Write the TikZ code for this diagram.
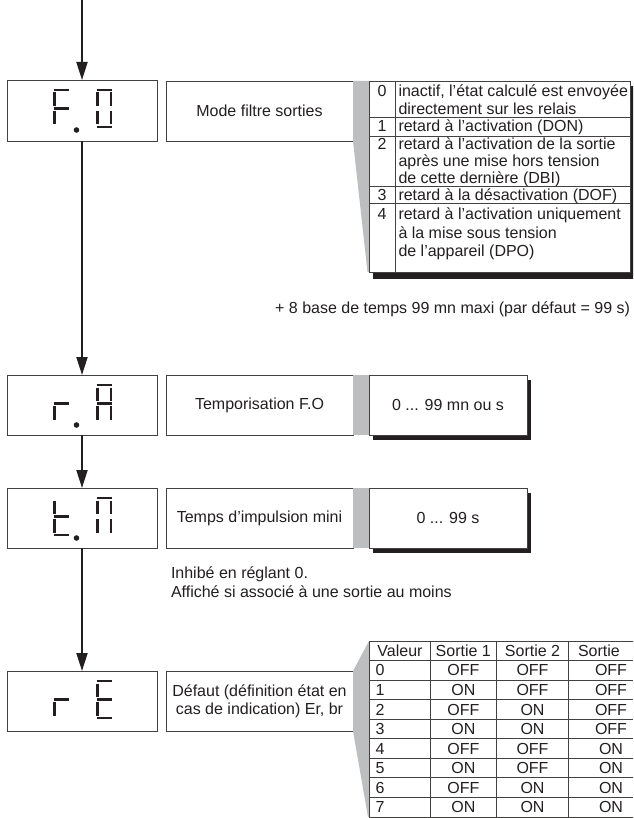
\documentclass[tikz,border=0pt]{standalone}
\usepackage{fontspec}
\setmainfont{Liberation Sans}
\usetikzlibrary{arrows.meta}
\definecolor{ink}{RGB}{35,31,32}
\definecolor{wedge}{RGB}{188,190,192}
\newcommand\fsz{\fontsize{16}{18}\selectfont}
\newcommand\mysega{\draw[segm] (0,10)--(15.5,10);}
\newcommand\mysegb{\draw[segm] (14.4,12.5)--(14.4,26);}
\newcommand\mysegc{\draw[segm] (14.4,31)--(14.4,44.5);}
\newcommand\mysegd{\draw[segm] (0,47)--(15.5,47);}
\newcommand\mysege{\draw[segm] (1.1,31)--(1.1,44.5);}
\newcommand\mysegf{\draw[segm] (1.1,12.5)--(1.1,26);}
\newcommand\mysegg{\draw[segm] (0,28.5)--(15.5,28.5);}
\newcommand\digit[3]{\begin{scope}[shift={(#1,#2)}]\foreach \s in {#3}{\csname myseg\s\endcsname}\end{scope}}
\begin{document}
\begin{tikzpicture}[x=1pt,y=-1pt,
  box/.style={draw=ink!85, line width=0.9pt, fill=white, inner sep=0pt, outer sep=0pt, align=center, font=\fsz, text=ink},
  txt/.style={inner sep=0pt, outer sep=0pt, font=\fsz, text=ink},
  flow/.style={draw=ink, line width=2pt, -{Triangle[width=11pt,length=18pt]}},
  segm/.style={draw=ink, line width=2.3pt},
  rule/.style={draw=ink!85, line width=0.9pt},
  shade/.style={fill=ink, draw=none}]
\clip (0,0) rectangle (633,818);
\fill[white] (0,0) rectangle (633,818);
% ---------- row 1 : F.O
\coordinate (top) at (82,0);
\node[box, minimum width=150pt, minimum height=61pt] (d1) at (82,110.5) {};
\node[box, minimum width=187pt, minimum height=60pt] (m1) at (259.5,111) {Mode filtre sorties};
\fill[wedge] (353,81) -- (369,81) -- (369,272) -- (367.5,272) -- (353,141) -- cycle;
\fill[shade] (373,86) rectangle (640,279);
\node[box, anchor=north west, minimum width=261.5pt, minimum height=191pt] (t1) at (369,81) {};
\draw[rule] (395,81) -- (395,272);
\foreach \yy in {117,136,186,203} \draw[rule] (369,\yy) -- (630.5,\yy);
\foreach \n/\yy in {0/96.5,1/131.5,2/150,3/201,4/220}
  \node[txt, anchor=base] (k\n) at (382,\yy) {\n};
\foreach \n/\yy/\t in {
  a/96.5/{inactif, l’état calculé est envoyée},
  b/115/{directement sur les relais},
  c/131.5/{retard à l’activation (DON)},
  d/150/{retard à l’activation de la sortie},
  e/167/{après une mise hors tension},
  f/184/{de cette dernière (DBI)},
  g/201/{retard à la désactivation (DOF)},
  h/220/{retard à l’activation uniquement},
  i/238/{à la mise sous tension},
  j/256/{de l’appareil (DPO)}}
  \node[txt, anchor=base west] (l\n) at (398.5,\yy) {\t};
\node[txt, anchor=base east] (note1) at (630,313) {+ 8 base de temps 99 mn maxi (par défaut = 99 s)};
% ---------- row 2 : r.A
\node[box, minimum width=150pt, minimum height=60pt] (d2) at (82,405) {};
\node[box, minimum width=187pt, minimum height=60pt] (m2) at (259.5,405) {Temporisation F.O};
\fill[wedge] (353,375) rectangle (369,435);
\fill[shade] (373,380) rectangle (531,440);
\node[box, minimum width=158pt, minimum height=60pt] (v2) at (448,405) {0 ... 99 mn ou s};
% ---------- row 3 : t.n
\node[box, minimum width=150pt, minimum height=60pt] (d3) at (82,518) {};
\node[box, minimum width=187pt, minimum height=60pt] (m3) at (259.5,518) {Temps d’impulsion mini};
\fill[wedge] (353,488) rectangle (369,548);
\fill[shade] (373,493) rectangle (531,553);
\node[box, minimum width=158pt, minimum height=60pt] (v3) at (448,518) {0 ... 99 s};
\node[txt, anchor=base west] (note2) at (171,578) {Inhibé en réglant 0.};
\node[txt, anchor=base west] (note3) at (171,597) {Affiché si associé à une sortie au moins};
% ---------- row 4 : r.E
\node[box, minimum width=150pt, minimum height=60pt] (d4) at (82,701) {};
\node[box, minimum width=187pt, minimum height=60pt] (m4) at (259.5,701) {Défaut (définition état en\\cas de indication) Er, br};
\fill[wedge] (353,671) -- (369,641) -- (369,817) -- (368,817) -- (353,731) -- cycle;
\node[box, anchor=north west, minimum width=290pt, minimum height=176pt] (t2) at (369.3,641) {};
\foreach \xx in {430,496.7,568.3} \draw[rule] (\xx,641) -- (\xx,817);
\foreach \i in {1,...,8} \draw[rule] (369.3,641+19.56*\i) -- (633,641+19.56*\i);
\node[txt, anchor=base] (h0) at (400,656.3) {Valeur};
\node[txt, anchor=base] (h1) at (463.3,656.3) {Sortie 1};
\node[txt, anchor=base] (h2) at (532.5,656.3) {Sortie 2};
\node[txt, anchor=base west] (h3) at (578,656.3) {Sortie};
\foreach \i/\a/\b/\c in {0/OFF/OFF/OFF,1/ON/OFF/OFF,2/OFF/ON/OFF,3/ON/ON/OFF,4/OFF/OFF/ON,5/ON/OFF/ON,6/OFF/ON/ON,7/ON/ON/ON}{
  \node[txt, anchor=base west] (r\i) at (375.5,675.9+19.56*\i) {\i};
  \node[txt, anchor=base] (ra\i) at (463.3,675.9+19.56*\i) {\a};
  \node[txt, anchor=base] (rb\i) at (532.5,675.9+19.56*\i) {\b};
  \node[txt, anchor=base] (rc\i) at (611,675.9+19.56*\i) {\c};
}
% ---------- displays
\digit{53.5}{80}{a,f,g,e}
\fill[ink] (76.5,130) circle (2.8pt);
\digit{96.5}{80}{a,b,c,d,e,f}
\digit{53.5}{375}{g,e}
\fill[ink] (76.5,425) circle (2.8pt);
\digit{96.5}{375}{a,b,c,e,f,g}
\digit{53.5}{488}{f,g,e,d}
\fill[ink] (76.5,538) circle (2.8pt);
\digit{96.5}{488}{a,b,c,e,f}
\digit{53.5}{671}{g,e}
\digit{96.5}{671}{a,d,e,f,g}
% ---------- flow
\draw[flow] (top) -- (d1.north);
\draw[flow] (d1.south) -- (d2.north);
\draw[flow] (d2.south) -- (d3.north);
\draw[flow] (d3.south) -- (d4.north);
\end{tikzpicture}
\end{document}
